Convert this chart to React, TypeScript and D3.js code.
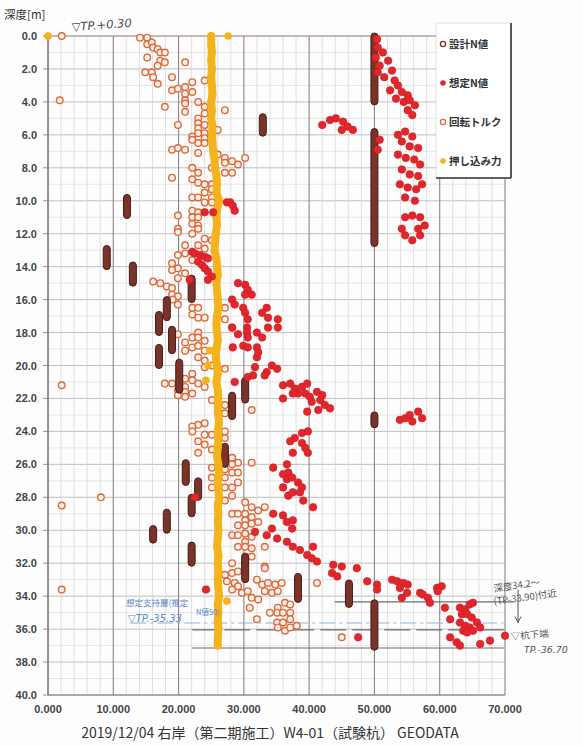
import * as d3 from 'd3'

// depth [m] on y, value (x1000) on x
const depthTicks = d3.range(0, 40.01, 2)
const valueTicks = d3.range(0, 70.01, 10)

const legendLabels = ['設計N値', '想定N値', '回転トルク', '押し込み力']

// 設計N値: value, top depth, bottom depth
const designValue = [50.0, 50.0, 32.9, 12.1, 9.0, 13.0, 22.0, 18.2, 17.0, 19.0, 17.0, 20.1, 30.2, 28.2, 50.0, 27.1, 21.1, 23.0, 22.0, 18.2, 16.1, 22.0, 30.2, 38.3, 46.1, 50.0]
const designTop = [0.0, 5.8, 4.9, 9.8, 12.9, 13.9, 14.7, 16.0, 16.9, 17.8, 18.9, 19.8, 20.9, 21.8, 23.0, 24.9, 25.9, 27.0, 28.0, 28.9, 29.9, 30.9, 31.6, 32.8, 33.2, 34.4]
const designBottom = [4.0, 12.6, 5.9, 10.9, 14.0, 15.0, 16.0, 17.1, 18.0, 19.1, 20.0, 21.5, 22.1, 23.1, 23.6, 26.0, 27.1, 28.0, 29.0, 30.0, 30.6, 32.0, 33.0, 34.2, 34.5, 37.1]

// 想定N値 [value, depth]
const estimatedN: [number, number][] = [
  [50.4, 0.2], [50.5, 0.7], [51.3, 1.0], [50.2, 1.3], [52.1, 1.5], [50.8, 1.8], [50.5, 2.2], [52.7, 2.1], [51.5, 2.5], [53.1, 2.7],
  [53.6, 3.0], [52.4, 3.3], [54.2, 3.4], [55.1, 3.6], [53.3, 3.8], [54.5, 4.0], [55.4, 3.9], [56.2, 4.2], [55.1, 4.5], [55.8, 4.8],
  [42.0, 5.4], [43.2, 5.1], [44.1, 5.0], [45.2, 5.2], [45.9, 5.5], [46.7, 5.7], [45.0, 5.7],
  [53.6, 6.0], [54.7, 5.8], [55.8, 6.1], [54.2, 6.4], [55.4, 6.7], [56.7, 6.8], [53.6, 7.2], [54.8, 7.4], [56.1, 7.5], [57.0, 7.8],
  [54.2, 8.1], [55.4, 8.4], [56.7, 8.5], [53.9, 9.0], [55.1, 9.2], [56.4, 9.3], [57.3, 9.0], [54.7, 9.8], [56.2, 10.0], [50.8, 6.3], [50.5, 6.9],
  [54.7, 11.0], [55.8, 10.9], [57.0, 11.0], [57.7, 11.5], [57.0, 12.1], [55.8, 12.4], [54.7, 12.1], [54.2, 11.7], [56.7, 11.7],
  [27.4, 10.1], [27.9, 10.1], [28.3, 10.3], [28.6, 10.6], [24.0, 10.7], [25.3, 10.7],
  [22.1, 13.1], [22.5, 13.2], [23.3, 13.3], [24.0, 13.4], [24.5, 13.5], [23.0, 13.7], [23.6, 13.9], [24.0, 14.1], [24.5, 14.3], [25.1, 14.6], [24.5, 14.8], [21.7, 14.8],
  [29.1, 15.0], [30.2, 15.1], [30.6, 15.4], [31.2, 15.7], [30.2, 15.7], [28.2, 16.0], [28.6, 16.3], [29.9, 16.5], [30.2, 16.8], [30.6, 17.2], [30.5, 17.7],
  [33.5, 16.5], [32.8, 16.8], [33.7, 17.1], [35.2, 17.2], [35.2, 17.7], [33.7, 17.7], [28.2, 17.7], [29.1, 18.1], [30.5, 18.0], [30.6, 18.3], [32.0, 18.0], [32.8, 18.3],
  [29.9, 18.8], [30.6, 18.9], [32.0, 18.9], [32.0, 19.5], [32.2, 19.2], [28.3, 18.9], [31.7, 20.1], [34.3, 20.0], [35.1, 20.2], [33.5, 20.4], [30.6, 20.7], [31.4, 20.6],
  [28.6, 21.0], [33.2, 20.6], [36.0, 21.2], [37.1, 21.1], [37.8, 21.4], [38.9, 21.3], [39.7, 21.1], [38.3, 21.7], [39.4, 21.7], [40.1, 21.9], [41.2, 21.6], [40.4, 22.2],
  [36.0, 22.0], [37.5, 21.7], [41.7, 22.1], [42.4, 22.4], [43.2, 22.6], [41.4, 22.7], [42.0, 21.8],
  [53.9, 23.3], [54.7, 23.2], [55.4, 23.0], [56.7, 22.8], [57.3, 23.2], [55.8, 23.4],
  [39.7, 22.8], [38.9, 24.1], [39.8, 24.0], [37.8, 24.4], [37.1, 24.6], [38.9, 24.7], [39.4, 25.0], [37.5, 25.3], [39.8, 25.3],
  [34.5, 26.2], [36.6, 26.0], [36.8, 26.5], [36.0, 26.6], [36.6, 26.9], [37.4, 26.8], [38.3, 27.1], [38.9, 27.4], [36.0, 27.4], [36.8, 27.9], [37.5, 27.7], [38.6, 27.7],
  [39.1, 28.2], [40.6, 28.6], [34.5, 29.0], [36.0, 29.1], [36.6, 29.5], [37.5, 29.4], [37.4, 29.9], [33.5, 30.3], [34.3, 29.9], [35.1, 30.5], [36.6, 30.7], [37.5, 31.0],
  [38.6, 31.2], [39.7, 31.5], [40.4, 31.7], [41.2, 31.9], [40.6, 31.0], [31.7, 30.1], [22.5, 28.0],
  [43.7, 32.1], [45.0, 32.2], [47.3, 32.3], [43.5, 32.6], [44.3, 32.8], [48.9, 33.1], [50.4, 33.3], [50.4, 33.6], [52.7, 33.0], [53.5, 33.1], [54.4, 33.2], [55.1, 33.3],
  [53.9, 33.5], [55.0, 33.8], [54.2, 34.1], [57.0, 33.8], [57.4, 33.9], [58.2, 34.1], [58.5, 34.4], [59.6, 33.5], [60.3, 33.4], [59.7, 33.7],
  [60.8, 34.7], [63.1, 34.7], [63.9, 34.8], [64.6, 34.5], [65.1, 34.4], [63.4, 35.1], [64.2, 35.1], [64.9, 35.3], [61.6, 35.4], [63.1, 35.6], [63.9, 35.8], [64.6, 35.9],
  [65.7, 35.6], [66.2, 35.9], [63.6, 36.1], [64.2, 36.2], [65.1, 36.1], [61.6, 36.5], [62.6, 36.8], [63.1, 37.0], [66.2, 36.9], [67.7, 36.7], [70.0, 36.4],
  [47.5, 36.5], [24.2, 33.6],
]

// 回転トルク [value, depth]
const torque: [number, number][] = [
  [2.1, 0.0], [1.8, 3.9], [2.1, 21.2], [2.1, 28.5], [8.1, 28.0], [2.1, 33.6],
  [14.1, 0.1], [15.2, 0.1], [15.2, 0.5], [15.9, 0.4], [16.1, 0.7], [16.8, 0.8], [17.2, 1.0], [17.2, 1.5], [17.9, 1.0], [17.9, 1.6], [16.8, 1.8], [15.2, 1.3],
  [21.0, 1.6], [14.9, 2.2], [15.9, 2.2], [16.1, 2.5], [16.8, 2.9], [19.0, 2.5], [22.1, 2.8], [24.0, 2.7], [19.0, 3.3], [19.9, 3.2], [21.0, 3.1], [21.0, 3.5],
  [22.1, 3.4], [21.0, 3.9], [21.0, 4.1], [17.9, 4.3], [23.0, 4.0], [24.0, 4.3], [27.1, 4.5], [21.0, 4.6], [24.0, 4.7], [23.0, 5.0], [23.0, 5.3], [19.9, 5.4],
  [24.0, 5.4], [23.0, 5.6], [26.0, 5.7], [23.0, 5.9], [24.0, 5.9], [22.1, 6.1], [24.0, 6.2], [22.1, 6.3], [23.0, 6.5], [24.0, 6.5], [19.0, 6.9], [19.9, 6.8],
  [21.0, 6.9], [23.0, 7.1], [26.0, 7.2], [27.1, 7.4], [28.2, 7.6], [30.2, 7.4], [27.1, 7.7], [29.1, 7.8], [22.1, 8.0], [25.1, 8.0], [27.1, 8.3], [28.2, 8.3],
  [23.0, 8.3], [19.0, 8.6], [22.1, 8.7], [23.0, 8.9], [24.0, 9.0], [25.1, 9.0], [25.1, 9.3], [24.0, 9.5], [22.1, 9.8], [23.0, 9.8], [25.1, 9.8], [24.0, 10.1],
  [25.1, 10.1], [22.1, 10.6], [23.0, 10.7], [19.9, 10.9], [22.1, 11.0], [23.0, 11.0], [22.1, 11.4], [19.9, 11.7],
  [23.0, 11.5], [23.0, 11.7], [19.9, 11.9], [22.1, 12.0], [24.0, 12.3], [25.1, 12.4], [21.0, 12.7], [23.0, 12.7], [24.0, 12.9], [19.9, 13.3], [21.0, 13.2],
  [22.1, 13.6], [19.0, 13.8], [19.9, 14.1], [19.0, 14.2], [21.0, 14.4], [19.9, 14.7], [16.1, 14.9], [17.2, 15.0], [18.2, 15.2], [19.0, 15.3], [19.0, 15.7],
  [19.9, 15.8], [19.1, 16.0], [19.9, 16.3], [22.1, 16.5], [23.0, 16.5], [27.1, 16.5], [22.1, 16.9], [23.0, 17.1], [24.0, 17.1], [27.1, 17.2], [28.2, 17.7],
  [19.9, 18.1], [23.0, 18.0], [22.1, 18.3], [23.0, 18.3], [24.0, 18.5], [21.0, 18.6], [22.1, 18.9], [23.0, 18.8], [21.0, 19.1], [24.0, 19.1], [23.0, 19.5],
  [24.0, 19.7], [25.1, 20.0], [24.0, 20.1], [27.1, 20.2], [22.1, 20.5], [21.0, 20.8], [22.1, 20.9], [23.0, 21.1], [17.9, 21.1], [19.0, 21.1], [21.0, 21.3],
  [19.9, 21.5], [21.0, 21.6], [22.1, 21.7], [19.9, 21.8], [21.0, 21.9], [24.0, 21.3], [25.1, 22.1], [27.1, 22.4], [26.0, 22.8], [31.2, 22.7], [27.1, 22.9],
  [23.0, 23.6], [22.1, 23.7], [24.0, 23.5], [22.1, 24.0], [24.0, 24.2], [25.1, 24.2], [27.1, 24.0], [27.1, 24.4], [23.0, 24.6], [24.0, 24.8], [25.1, 25.1],
  [23.0, 25.3], [28.2, 25.6], [29.1, 25.9], [28.2, 26.0], [31.2, 25.9], [25.1, 26.2], [27.1, 26.3], [28.2, 26.5], [29.1, 26.5], [25.1, 26.8], [27.1, 26.8],
  [29.1, 27.1], [27.1, 27.4], [28.2, 27.4], [25.1, 27.4], [28.2, 27.9], [27.1, 28.2], [30.2, 28.3], [31.2, 28.6], [28.2, 29.0], [29.1, 29.0], [30.2, 29.0],
  [32.2, 28.8], [33.2, 28.6], [31.2, 29.2], [30.2, 29.4], [29.1, 29.7], [30.2, 29.7], [31.2, 29.6], [32.2, 29.5], [28.2, 30.3], [29.1, 30.3], [30.2, 30.2],
  [31.2, 30.4], [30.2, 30.7], [30.2, 31.0], [31.2, 31.1], [33.2, 31.0], [29.1, 31.0], [30.2, 31.6], [31.2, 31.6], [28.2, 32.0], [30.2, 32.0], [33.2, 32.2],
  [27.1, 32.7], [28.2, 32.6], [29.1, 32.5], [33.2, 32.3], [27.4, 33.1], [28.6, 33.2], [29.1, 33.4], [28.2, 33.6], [29.7, 33.8], [30.6, 33.7], [32.0, 33.0],
  [32.8, 33.3], [33.7, 33.2], [34.8, 33.3], [35.8, 33.2], [33.2, 33.7], [34.3, 33.8], [35.2, 33.7], [31.2, 34.1], [32.2, 34.2], [30.9, 34.7], [35.2, 34.7],
  [36.3, 34.4], [37.1, 34.5], [34.0, 35.0], [35.1, 35.0], [36.0, 35.0], [37.1, 35.0], [32.0, 35.4], [35.1, 35.6], [36.0, 35.6], [37.1, 35.4], [38.1, 35.8],
  [35.2, 35.9], [36.3, 36.1], [37.1, 35.9], [41.2, 33.2], [45.0, 36.5],
]

// 押し込み力: one reading every 0.5 m from 0.0 m
const pushStep = 0.5
const pushValues = [
  25.0, 25.0, 25.1, 25.0, 25.1, 25.0, 25.1, 25.2, 25.0, 25.1,
  25.0, 25.2, 25.1, 25.2, 25.3, 25.5, 25.6, 25.8, 25.9, 25.8,
  26.2, 25.9, 25.8, 25.9, 25.7, 25.6, 25.5, 25.8, 25.9, 26.0,
  25.8, 25.9, 26.0, 26.1, 25.9, 25.8, 25.9, 26.0, 25.8, 25.7,
  25.9, 26.0, 25.8, 26.0, 26.1, 26.0, 26.1, 26.2, 26.0, 26.1,
  26.0, 25.9, 26.1, 26.2, 26.0, 26.1, 26.2, 26.0, 26.1, 26.0,
  26.1, 26.0, 25.9, 26.1, 26.0, 26.1, 26.0, 26.1, 26.2, 26.0,
  26.1, 26.0, 26.1, 26.0, 26.0,
]
const pushExtra: [number, number][] = [[0, 0], [27.6, 0], [24.8, 19.1], [24.5, 20.0], [24.2, 20.9], [27.4, 34.3]]

// reference lines drawn by hand [depth, from value, to value, dash]
const grayLines: [number, number, number, string][] = [
  [34.35, 43.9, 71.2, ''],
  [36.05, 22.1, 69.8, '26 6'],
  [37.15, 22.1, 69.8, ''],
]
const blueLine: [number, number, number] = [35.63, 12.6, 69.8]
const arrow: [number, number, number] = [72.0, 33.6, 35.6]

const W = 583
const H = 745
const C_DESIGN = '#7a3329'
const C_EST = '#e3262b'
const C_TORQ = '#da6a3c'
const C_PUSH = '#f4b31c'
const JP = '"Noto Sans CJK JP", "Noto Sans", sans-serif'
const HAND = '"DejaVu Sans", sans-serif'

export default function App() {
  const x = d3.scaleLinear().domain([0, 70]).range([48, 505])
  const y = d3.scaleLinear().domain([0, 40]).range([36, 695])

  const minorX = d3.range(0, 70.01, 2)
  const minorY = d3.range(0, 40.01, 1)

  const pushPts: [number, number][] = pushValues.map((v, i) => [v, i * pushStep])
  const pushLine = d3.line<[number, number]>().x(d => x(d[0])).y(d => y(d[1]))

  const lx = 436
  const ly = 23
  const legendY = [44, 83, 122, 161]

  return (
    <svg width={W} height={H} style={{ position: 'absolute', left: 0, top: 0, background: '#fff' }}>
      <rect x={0} y={0} width={W} height={H} fill="#fdfdfd" />

      {/* grid */}
      {minorY.map(d => (
        <line key={'hy' + d} x1={x(0)} x2={x(70)} y1={y(d)} y2={y(d)}
          stroke={d % 2 === 0 ? '#b9b9b9' : '#dcdcdc'} strokeWidth={d % 2 === 0 ? 0.9 : 0.7} />
      ))}
      {minorX.map(v => (
        <line key={'vx' + v} x1={x(v)} x2={x(v)} y1={y(0)} y2={y(40)}
          stroke={v % 10 === 0 ? '#8c8585' : '#d3d3d3'} strokeWidth={v % 10 === 0 ? 1.1 : 0.7} />
      ))}
      <line x1={x(0)} x2={x(70)} y1={y(0)} y2={y(0)} stroke="#b08f84" strokeWidth={1} />
      <line x1={x(0)} x2={x(70)} y1={y(40)} y2={y(40)} stroke="#7d7373" strokeWidth={1.2} />
      <line x1={x(0)} x2={x(0)} y1={y(0)} y2={y(40)} stroke="#7d7373" strokeWidth={1.2} />
      {depthTicks.map(d => (
        <line key={'tk' + d} x1={x(0) - 5} x2={x(0)} y1={y(d)} y2={y(d)} stroke="#777" strokeWidth={0.8} />
      ))}

      {/* axis labels */}
      {depthTicks.map(d => (
        <text key={'yl' + d} x={37} y={y(d) + 4} textAnchor="end" fontSize={11} fontWeight="bold"
          fontFamily='"Liberation Sans", Arial, sans-serif' fill="#444">{d.toFixed(1)}</text>
      ))}
      {valueTicks.map(v => (
        <text key={'xl' + v} x={x(v)} y={713} textAnchor="middle" fontSize={11} fontWeight="bold"
          fontFamily='"Liberation Sans", Arial, sans-serif' fill="#444">{v.toFixed(3)}</text>
      ))}
      <text x={4} y={19} fontSize={11.5} fontFamily={JP} fill="#333">深度[m]</text>
      <text x={270} y={738} textAnchor="middle" fontSize={14} fontFamily={JP} fill="#333">
        2019/12/04 右岸（第二期施工）W4-01（試験杭） GEODATA
      </text>

      {/* hand drawn reference lines */}
      {grayLines.map(([d, a, b, dash], i) => (
        <line key={'gl' + i} x1={x(a)} x2={x(b)} y1={y(d)} y2={y(d)} stroke="#6f6a6a" strokeWidth={1.1}
          strokeDasharray={dash || undefined} />
      ))}
      <line x1={x(blueLine[1])} x2={x(blueLine[2])} y1={y(blueLine[0])} y2={y(blueLine[0])}
        stroke="#8fb3dc" strokeWidth={1.2} strokeDasharray="16 4 3 4" />
      <line x1={x(arrow[0])} x2={x(arrow[0])} y1={y(arrow[1])} y2={y(arrow[2])} stroke="#555" strokeWidth={1} />
      <path d={`M${x(arrow[0]) - 3},${y(arrow[2]) - 6} L${x(arrow[0])},${y(arrow[2])} L${x(arrow[0]) + 3},${y(arrow[2]) - 6}`}
        fill="none" stroke="#555" strokeWidth={1} />

      {/* 回転トルク */}
      {torque.map(([v, d], i) => (
        <circle key={'t' + i} cx={x(v)} cy={y(d)} r={3.3} fill="#fdf0e8" stroke={C_TORQ} strokeWidth={1.4} />
      ))}

      {/* 設計N値 */}
      {designValue.map((v, i) => (
        <rect key={'dn' + i} x={x(v) - 3.5} y={y(designTop[i]) - 3} width={7}
          height={y(designBottom[i]) - y(designTop[i]) + 6} rx={3.5}
          fill={C_DESIGN} stroke="#4a1b15" strokeWidth={1} />
      ))}

      {/* 押し込み力 */}
      <path d={pushLine(pushPts) || ''} fill="none" stroke={C_PUSH} strokeWidth={8} strokeLinecap="round" />
      {pushPts.concat(pushExtra).map(([v, d], i) => (
        <circle key={'p' + i} cx={x(v)} cy={y(d)} r={3.8} fill={C_PUSH} />
      ))}

      {/* 想定N値 */}
      {estimatedN.map(([v, d], i) => (
        <circle key={'e' + i} cx={x(v)} cy={y(d)} r={3.8} fill={C_EST} stroke="#c81d22" strokeWidth={0.6} />
      ))}

      {/* handwritten notes */}
      <text x={72} y={31} fontSize={11.5} fontStyle="italic" fontFamily={HAND} fill="#4a4a55"
        transform="rotate(-4 72 31)">▽TP.+0.30</text>
      <text x={126} y={606} fontSize={8.5} fontFamily={JP} fill="#5b86c4">想定支持層(推定</text>
      <text x={196} y={615} fontSize={7.5} fontFamily={JP} fill="#5b86c4">N値50)</text>
      <text x={128} y={622} fontSize={10} fontStyle="italic" fontFamily={HAND} fill="#5b86c4">▽TP.-35.33</text>
      <text x={494} y={592} fontSize={9.5} fontFamily={JP} fill="#555" transform="rotate(-8 494 592)">深度34.2～</text>
      <text x={494} y={605} fontSize={9.5} fontFamily={JP} fill="#555" transform="rotate(-8 494 605)">(TP-33.90)付近</text>
      <text x={511} y={640} fontSize={9.5} fontFamily={JP} fill="#555" transform="rotate(-5 511 640)">▽杭下端</text>
      <text x={524} y={653} fontSize={9.5} fontStyle="italic" fontFamily={HAND} fill="#555">TP.-36.70</text>

      {/* legend */}
      <rect x={lx} y={ly} width={75} height={155} fill="#fff" stroke="#ccc" strokeWidth={0.6} />
      <line x1={lx + 75} x2={lx + 75} y1={ly} y2={ly + 155} stroke="#333" strokeWidth={1.6} />
      <line x1={lx} x2={lx + 75} y1={ly + 155} y2={ly + 155} stroke="#333" strokeWidth={1.6} />
      {legendLabels.map((t, i) => (
        <g key={'lg' + i}>
          {i === 0 && <circle cx={lx + 7} cy={legendY[i]} r={2.6} fill="#fff" stroke={C_DESIGN} strokeWidth={1.3} />}
          {i === 1 && <circle cx={lx + 7} cy={legendY[i]} r={2.8} fill={C_EST} />}
          {i === 2 && <circle cx={lx + 7} cy={legendY[i]} r={2.6} fill="#fff" stroke={C_TORQ} strokeWidth={1.3} />}
          {i === 3 && <circle cx={lx + 7} cy={legendY[i]} r={2.8} fill={C_PUSH} />}
          <text x={lx + 13} y={legendY[i] + 4} fontSize={10.5} fontWeight="bold" fontFamily={JP} fill="#333">{t}</text>
        </g>
      ))}
    </svg>
  )
}
